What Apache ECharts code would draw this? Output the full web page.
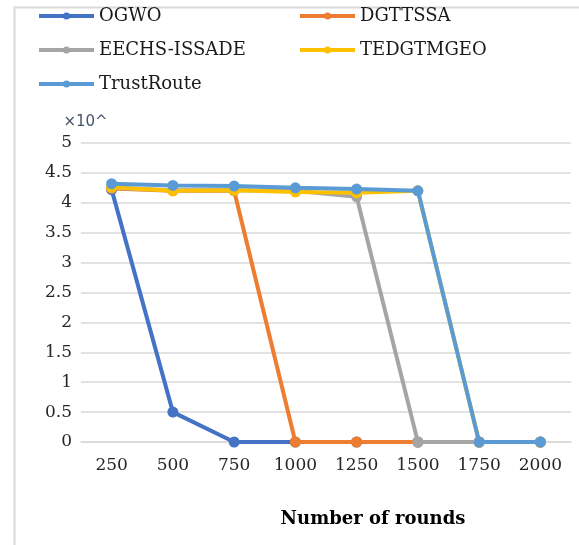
<!DOCTYPE html>
<html>
<head>
<meta charset="utf-8">
<script src="https://cdn.jsdelivr.net/npm/echarts@6/dist/echarts.min.js"></script>
<style>html,body{margin:0;padding:0;background:#fff;}#c{width:579px;height:545px;}</style>
</head>
<body>
<div id="c"></div>
<script>
var categories = ['250', '500', '750', '1000', '1250', '1500', '1750', '2000'];
var seriesNames = ['OGWO', 'DGTTSSA', 'EECHS-ISSADE', 'TEDGTMGEO', 'TrustRoute'];
var ogwo = [4.22, 0.5, 0, 0, 0, 0, 0, 0];
var dgttssa = [4.24, 4.2, 4.2, 0, 0, 0, 0, 0];
var eechs = [4.25, 4.21, 4.21, 4.2, 4.1, 0, 0, 0];
var tedgtmgeo = [4.26, 4.2, 4.21, 4.18, 4.17, 4.2, 0, 0];
var trustRoute = [4.32, 4.29, 4.28, 4.25, 4.23, 4.2, 0, 0];
var yTicks = [0, 0.5, 1, 1.5, 2, 2.5, 3, 3.5, 4, 4.5, 5];
var colors = ['#4472C4', '#ED7D31', '#A5A5A5', '#FFC000', '#5B9BD5'];
var values = [ogwo, dgttssa, eechs, tedgtmgeo, trustRoute];

var chart = echarts.init(document.getElementById('c'));
var legendText = {fontFamily: 'DejaVu Serif', fontSize: 18, color: '#1a1a1a'};
var legendCommon = {
  orient: 'vertical', top: 7, itemGap: 16,
  itemWidth: 55, itemHeight: 9, textStyle: legendText, padding: 0,
  lineStyle: {width: 4}
};
chart.setOption({
  animation: false,
  color: colors,
  graphic: [{
    type: 'rect', left: 12, top: 5,
    shape: {width: 620, height: 600},
    style: {fill: 'none', stroke: '#d9d9d9', lineWidth: 2}
  }],
  legend: [
    Object.assign({data: [seriesNames[0], seriesNames[2], seriesNames[4]], left: 37}, legendCommon),
    Object.assign({data: [seriesNames[1], seriesNames[3]], left: 298}, legendCommon)
  ],
  grid: {left: 81, right: 8, top: 143, bottom: 103},
  xAxis: {
    type: 'category', data: categories, boundaryGap: true,
    axisLine: {lineStyle: {color: '#d9d9d9', width: 1.5}},
    axisTick: {show: false},
    axisLabel: {fontFamily: 'DejaVu Serif', fontSize: 17, color: '#262626', margin: 15},
    name: 'Number of rounds', nameLocation: 'middle', nameGap: 68,
    nameTextStyle: {fontFamily: 'DejaVu Serif', fontSize: 18, fontWeight: 'bold', color: '#000', padding: [0, 0, 0, 94]}
  },
  yAxis: {
    type: 'value', min: yTicks[0], max: yTicks[yTicks.length - 1], interval: 0.5,
    axisLine: {show: false}, axisTick: {show: false},
    splitLine: {lineStyle: {color: '#d9d9d9', width: 1.5}},
    axisLabel: {fontFamily: 'DejaVu Serif', fontSize: 17, color: '#262626', margin: 9},
    name: '×10^', nameGap: 13,
    nameTextStyle: {fontFamily: 'DejaVu Sans', fontSize: 15, color: '#44546A', padding: [0, 0, 0, 9]}
  },
  series: seriesNames.map(function (n, i) {
    return {
      name: n, type: 'line', data: values[i],
      symbol: 'circle', symbolSize: 11,
      lineStyle: {width: 4, color: colors[i]},
      itemStyle: {color: colors[i]},
      z: 2 + i
    };
  })
});
</script>
</body>
</html>
